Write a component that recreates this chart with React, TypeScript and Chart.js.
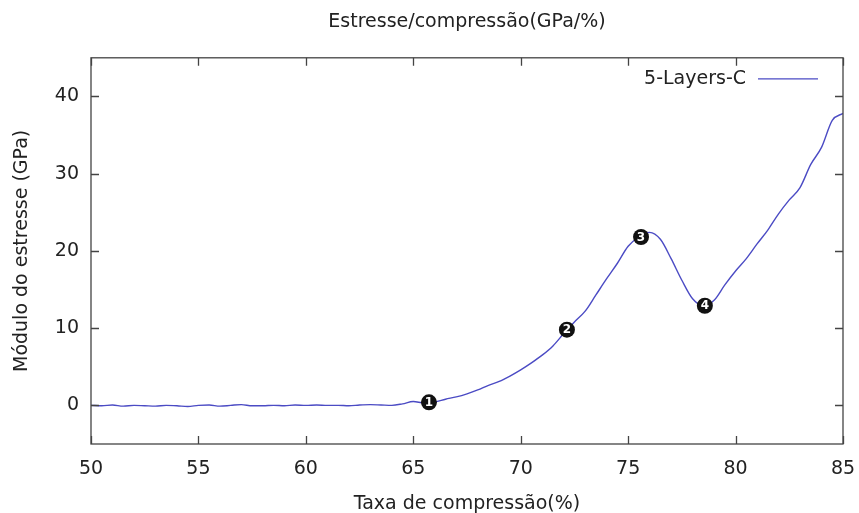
import React, { useEffect, useRef } from "react";
import { Chart, registerables } from "chart.js";

Chart.register(...registerables);

const titleText = "Estresse/compressão(GPa/%)";
const xTitle = "Taxa de compressão(%)";
const yTitle = "Módulo do estresse (GPa)";
const seriesName = "5-Layers-C";

const xValues = [
  50, 50.5, 51, 51.5, 52, 52.5, 53, 53.5, 54, 54.5,
  55, 55.5, 56, 56.5, 57, 57.5, 58, 58.5, 59, 59.5,
  60, 60.5, 61, 61.5, 62, 62.5, 63, 63.5, 64, 64.5,
  65, 65.5, 66, 66.5, 67, 67.5, 68, 68.5, 69, 69.5,
  70, 70.5, 71, 71.5, 72, 72.5, 73, 73.5, 74, 74.5,
  75, 75.5, 76, 76.5, 77, 77.5, 78, 78.5, 79, 79.5,
  80, 80.5, 81, 81.5, 82, 82.5, 83, 83.5, 84, 84.5, 85,
];
const yValues = [
  0.0, -0.05, 0.05, -0.1, 0.0, -0.05, -0.1, 0.0, -0.05, -0.15,
  0.0, 0.05, -0.1, 0.0, 0.1, -0.05, -0.05, 0.0, -0.05, 0.05,
  0.0, 0.05, 0.0, 0.0, -0.05, 0.05, 0.1, 0.05, 0.0, 0.2,
  0.5, 0.3, 0.45, 0.8, 1.1, 1.5, 2.0, 2.6, 3.1, 3.8,
  4.6, 5.5, 6.5, 7.7, 9.3, 10.8, 12.2, 14.3, 16.4, 18.4,
  20.6, 21.8, 22.4, 21.5, 19.0, 16.2, 13.8, 12.9, 13.6, 15.6,
  17.4, 19.0, 20.9, 22.7, 24.8, 26.6, 28.2, 31.2, 33.4, 36.9, 37.8,
];

const markerX = [65.73, 72.15, 75.6, 78.57];
const markerY = [0.4, 9.8, 21.8, 12.9];
const markerLabels = ["1", "2", "3", "4"];

const xTicks = [50, 55, 60, 65, 70, 75, 80, 85];
const yTicks = [0, 10, 20, 30, 40];

const FONT = '"DejaVu Sans", sans-serif';
const TEXT = "#222";
const LINE = "#4b4bc4";
const FRAME = "#444";

const gnuplotPlugin = {
  id: "gnuplotFrame",
  afterDatasetsDraw(chart: any) {
    const { ctx, chartArea: a, scales } = chart;
    const x = scales.x;
    const y = scales.y;
    ctx.save();
    // markers
    markerX.forEach((mx, i) => {
      const px = x.getPixelForValue(mx);
      const py = y.getPixelForValue(markerY[i]);
      ctx.beginPath();
      ctx.arc(px, py, 8, 0, Math.PI * 2);
      ctx.fillStyle = "#111";
      ctx.fill();
      ctx.fillStyle = "#fff";
      ctx.font = `bold 12px ${FONT}`;
      ctx.textAlign = "center";
      ctx.textBaseline = "middle";
      ctx.fillText(markerLabels[i], px, py + 0.5);
    });
    // frame
    ctx.strokeStyle = FRAME;
    ctx.lineWidth = 1.3;
    ctx.strokeRect(a.left, a.top, a.right - a.left, a.bottom - a.top);
    const tl = 8;
    ctx.beginPath();
    xTicks.forEach((v) => {
      const px = Math.round(x.getPixelForValue(v)) + 0.5;
      ctx.moveTo(px, a.bottom);
      ctx.lineTo(px, a.bottom - tl);
      ctx.moveTo(px, a.top);
      ctx.lineTo(px, a.top + tl);
    });
    yTicks.forEach((v) => {
      const py = Math.round(y.getPixelForValue(v)) + 0.5;
      ctx.moveTo(a.left, py);
      ctx.lineTo(a.left + tl, py);
      ctx.moveTo(a.right, py);
      ctx.lineTo(a.right - tl, py);
    });
    ctx.stroke();
    // legend
    const ly = a.top + 21;
    ctx.font = `19px ${FONT}`;
    ctx.fillStyle = TEXT;
    ctx.textAlign = "right";
    ctx.textBaseline = "middle";
    ctx.fillText(seriesName, a.right - 97, ly);
    ctx.strokeStyle = LINE;
    ctx.lineWidth = 1.3;
    ctx.beginPath();
    ctx.moveTo(a.right - 85, ly);
    ctx.lineTo(a.right - 25, ly);
    ctx.stroke();
    ctx.restore();
  },
};

export default function App() {
  const ref = useRef<HTMLCanvasElement | null>(null);
  useEffect(() => {
    if (!ref.current) return;
    const chart = new Chart(ref.current, {
      type: "line",
      data: {
        datasets: [
          {
            label: seriesName,
            data: xValues.map((xv, i) => ({ x: xv, y: yValues[i] })),
            borderColor: LINE,
            borderWidth: 1.4,
            pointRadius: 0,
            cubicInterpolationMode: "monotone",
            fill: false,
          },
        ],
      },
      options: {
        animation: false,
        responsive: false,
        devicePixelRatio: 1,
        layout: { padding: { left: 8, right: 16, top: 0, bottom: 0 } },
        plugins: {
          legend: { display: false },
          tooltip: { enabled: false },
          title: {
            display: true,
            text: titleText,
            fullSize: false,
            color: TEXT,
            font: { family: FONT, size: 19, weight: "normal" },
            padding: { top: 11, bottom: 24 },
          },
        },
        scales: {
          x: {
            type: "linear",
            min: 50,
            max: 85,
            grid: { display: false, drawTicks: false },
            border: { display: false },
            afterBuildTicks: (s: any) => {
              s.ticks = xTicks.map((v) => ({ value: v }));
            },
            afterFit: (s: any) => {
              s.height = 69;
              s.paddingLeft = 0;
              s.paddingRight = 0;
            },
            ticks: {
              color: TEXT,
              font: { family: FONT, size: 19 },
              padding: 14,
              maxRotation: 0,
              autoSkip: false,
            },
            title: {
              display: true,
              text: xTitle,
              color: TEXT,
              font: { family: FONT, size: 19 },
              padding: { top: 0, bottom: -2 },
            },
          },
          y: {
            type: "linear",
            min: -5,
            max: 45,
            grid: { display: false, drawTicks: false },
            border: { display: false },
            afterBuildTicks: (s: any) => {
              s.ticks = yTicks.map((v) => ({ value: v }));
            },
            afterFit: (s: any) => {
              s.width = 83;
              s.paddingTop = 0;
              s.paddingBottom = 0;
            },
            ticks: {
              color: TEXT,
              font: { family: FONT, size: 19 },
              padding: 12,
              autoSkip: false,
            },
            title: {
              display: true,
              text: yTitle,
              color: TEXT,
              font: { family: FONT, size: 19 },
              padding: 3,
            },
          },
        },
      },
      plugins: [gnuplotPlugin],
    });
    return () => chart.destroy();
  }, []);
  return (
    <canvas
      ref={ref}
      width={859}
      height={513}
      style={{ display: "block", position: "fixed", left: 0, top: 0, width: 859, height: 513 }}
    />
  );
}
